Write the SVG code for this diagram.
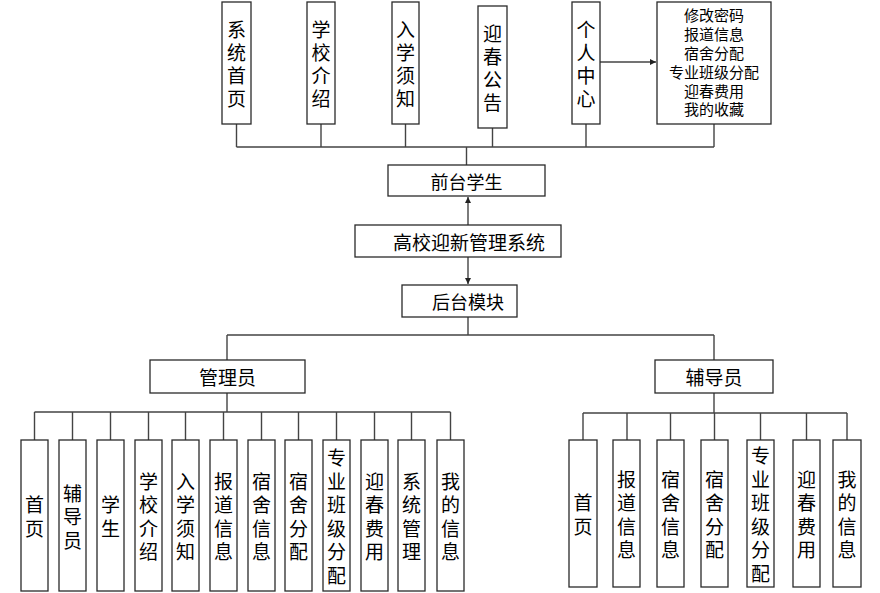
<svg xmlns="http://www.w3.org/2000/svg" width="880" height="593" viewBox="0 0 880 593">
<style>
.b{fill:#fff;stroke:#2a2a2a;stroke-width:1.3}
.t{font-family:"Noto Sans CJK SC","Noto Sans",sans-serif;font-size:19px;fill:#000;text-anchor:middle;dominant-baseline:central}
.s{font-size:15px}
.c{fill:none;stroke:#444;stroke-width:1.4}
</style>
<defs>
<marker id="ah" viewBox="0 0 10 10" refX="10" refY="5" markerWidth="6" markerHeight="6" orient="auto" markerUnits="userSpaceOnUse">
<path d="M0,0 L10,5 L0,10 z" fill="#222"/>
</marker>
</defs>
<rect width="880" height="593" fill="#fff"/>
<g id="connectors">
<path class="c" d="M236.5,124V147M321,124V147M405.5,124V147M492.5,128V147M586,124V147M714,124V147M236.5,147H714M466.5,147V165"/>
<path class="c" d="M600,62H656" marker-end="url(#ah)"/>
<path class="c" d="M468,225V197" marker-end="url(#ah)"/>
<path class="c" d="M468,257V284" marker-end="url(#ah)"/>
<path class="c" d="M468,317V335M227,335H714M227,335V360M714,335V360"/>
<path class="c" d="M227,393V412M34.5,412H450.5M34.5,412V440M72.5,412V440M110.5,412V440M148.5,412V440M185.5,412V440M223.5,412V440M261.5,412V440M298.5,412V440M336.5,412V440M374.5,412V440M411.5,412V440M450.5,412V440"/>
<path class="c" d="M714,393V413M583,413H847M583,413V440M627,413V440M670.5,413V440M714.5,413V440M760.5,413V440M806.5,413V440M847,413V440"/>
</g>
<g id="n_xtsy"><rect class="b" x="222" y="2" width="29" height="122"/><text class="t" x="236.5" y="28.5">系</text><text class="t" x="236.5" y="51.5">统</text><text class="t" x="236.5" y="74.5">首</text><text class="t" x="236.5" y="97.5">页</text></g>
<g id="n_xxjs"><rect class="b" x="307" y="2" width="28" height="122"/><text class="t" x="321" y="28.5">学</text><text class="t" x="321" y="51.5">校</text><text class="t" x="321" y="74.5">介</text><text class="t" x="321" y="97.5">绍</text></g>
<g id="n_rxxz"><rect class="b" x="392" y="2" width="27" height="122"/><text class="t" x="405.5" y="28.5">入</text><text class="t" x="405.5" y="51.5">学</text><text class="t" x="405.5" y="74.5">须</text><text class="t" x="405.5" y="97.5">知</text></g>
<g id="n_ycgg"><rect class="b" x="478" y="6" width="29" height="122"/><text class="t" x="492.5" y="32.5">迎</text><text class="t" x="492.5" y="55.5">春</text><text class="t" x="492.5" y="78.5">公</text><text class="t" x="492.5" y="101.5">告</text></g>
<g id="n_grzx"><rect class="b" x="572" y="2" width="28" height="122"/><text class="t" x="586" y="28.5">个</text><text class="t" x="586" y="51.5">人</text><text class="t" x="586" y="74.5">中</text><text class="t" x="586" y="97.5">心</text></g>
<g id="n_grzx_list"><rect class="b" x="657" y="2" width="114" height="122"/><text class="t s" x="714" y="14.5">修改密码</text><text class="t s" x="714" y="33">报道信息</text><text class="t s" x="714" y="52">宿舍分配</text><text class="t s" x="714" y="71">专业班级分配</text><text class="t s" x="714" y="90">迎春费用</text><text class="t s" x="714" y="108.5">我的收藏</text></g>
<g id="n_qtxs"><rect class="b" x="388" y="165" width="157" height="31"/><text class="t" x="466.5" y="180.5" style="font-size:18px">前台学生</text></g>
<g id="n_root"><rect class="b" x="355" y="225" width="206" height="32"/><text class="t" x="469" y="241">高校迎新管理系统</text></g>
<g id="n_htmk"><rect class="b" x="402" y="285" width="115" height="32"/><text class="t" x="468" y="301" style="font-size:18px">后台模块</text></g>
<g id="n_gly"><rect class="b" x="150" y="360" width="155" height="33"/><text class="t" x="227.5" y="376.5">管理员</text></g>
<g id="n_fdy"><rect class="b" x="655" y="360" width="118" height="33"/><text class="t" x="714" y="376.5">辅导员</text></g>
<g id="a_sy"><rect class="b" x="21" y="440" width="27" height="151"/><text class="t" x="34.5" y="503.75">首</text><text class="t" x="34.5" y="527.25">页</text></g>
<g id="a_fdy"><rect class="b" x="59" y="440" width="27" height="151"/><text class="t" x="72.5" y="492">辅</text><text class="t" x="72.5" y="515.5">导</text><text class="t" x="72.5" y="539">员</text></g>
<g id="a_xs"><rect class="b" x="97" y="440" width="27" height="151"/><text class="t" x="110.5" y="503.75">学</text><text class="t" x="110.5" y="527.25">生</text></g>
<g id="a_xxjs"><rect class="b" x="135" y="440" width="27" height="151"/><text class="t" x="148.5" y="480.25">学</text><text class="t" x="148.5" y="503.75">校</text><text class="t" x="148.5" y="527.25">介</text><text class="t" x="148.5" y="550.75">绍</text></g>
<g id="a_rxxz"><rect class="b" x="172" y="440" width="27" height="151"/><text class="t" x="185.5" y="480.25">入</text><text class="t" x="185.5" y="503.75">学</text><text class="t" x="185.5" y="527.25">须</text><text class="t" x="185.5" y="550.75">知</text></g>
<g id="a_bdxx"><rect class="b" x="210" y="440" width="27" height="151"/><text class="t" x="223.5" y="480.25">报</text><text class="t" x="223.5" y="503.75">道</text><text class="t" x="223.5" y="527.25">信</text><text class="t" x="223.5" y="550.75">息</text></g>
<g id="a_ssxx"><rect class="b" x="248" y="440" width="27" height="151"/><text class="t" x="261.5" y="480.25">宿</text><text class="t" x="261.5" y="503.75">舍</text><text class="t" x="261.5" y="527.25">信</text><text class="t" x="261.5" y="550.75">息</text></g>
<g id="a_ssfp"><rect class="b" x="285" y="440" width="27" height="151"/><text class="t" x="298.5" y="480.25">宿</text><text class="t" x="298.5" y="503.75">舍</text><text class="t" x="298.5" y="527.25">分</text><text class="t" x="298.5" y="550.75">配</text></g>
<g id="a_zybj"><rect class="b" x="323" y="440" width="27" height="151"/><text class="t" x="336.5" y="456.75">专</text><text class="t" x="336.5" y="480.25">业</text><text class="t" x="336.5" y="503.75">班</text><text class="t" x="336.5" y="527.25">级</text><text class="t" x="336.5" y="550.75">分</text><text class="t" x="336.5" y="574.25">配</text></g>
<g id="a_ycfy"><rect class="b" x="361" y="440" width="27" height="151"/><text class="t" x="374.5" y="480.25">迎</text><text class="t" x="374.5" y="503.75">春</text><text class="t" x="374.5" y="527.25">费</text><text class="t" x="374.5" y="550.75">用</text></g>
<g id="a_xtgl"><rect class="b" x="398" y="440" width="27" height="151"/><text class="t" x="411.5" y="480.25">系</text><text class="t" x="411.5" y="503.75">统</text><text class="t" x="411.5" y="527.25">管</text><text class="t" x="411.5" y="550.75">理</text></g>
<g id="a_wdxx"><rect class="b" x="437" y="440" width="27" height="151"/><text class="t" x="450.5" y="480.25">我</text><text class="t" x="450.5" y="503.75">的</text><text class="t" x="450.5" y="527.25">信</text><text class="t" x="450.5" y="550.75">息</text></g>
<g id="f_sy"><rect class="b" x="569" y="440" width="28" height="147"/><text class="t" x="583" y="501.75">首</text><text class="t" x="583" y="525.25">页</text></g>
<g id="f_bdxx"><rect class="b" x="613" y="440" width="27" height="147"/><text class="t" x="626.5" y="478.25">报</text><text class="t" x="626.5" y="501.75">道</text><text class="t" x="626.5" y="525.25">信</text><text class="t" x="626.5" y="548.75">息</text></g>
<g id="f_ssxx"><rect class="b" x="657" y="440" width="27" height="147"/><text class="t" x="670.5" y="478.25">宿</text><text class="t" x="670.5" y="501.75">舍</text><text class="t" x="670.5" y="525.25">信</text><text class="t" x="670.5" y="548.75">息</text></g>
<g id="f_ssfp"><rect class="b" x="701" y="440" width="27" height="147"/><text class="t" x="714.5" y="478.25">宿</text><text class="t" x="714.5" y="501.75">舍</text><text class="t" x="714.5" y="525.25">分</text><text class="t" x="714.5" y="548.75">配</text></g>
<g id="f_zybj"><rect class="b" x="747" y="440" width="27" height="147"/><text class="t" x="760.5" y="454.75">专</text><text class="t" x="760.5" y="478.25">业</text><text class="t" x="760.5" y="501.75">班</text><text class="t" x="760.5" y="525.25">级</text><text class="t" x="760.5" y="548.75">分</text><text class="t" x="760.5" y="572.25">配</text></g>
<g id="f_ycfy"><rect class="b" x="793" y="440" width="27" height="147"/><text class="t" x="806.5" y="478.25">迎</text><text class="t" x="806.5" y="501.75">春</text><text class="t" x="806.5" y="525.25">费</text><text class="t" x="806.5" y="548.75">用</text></g>
<g id="f_wdxx"><rect class="b" x="833" y="440" width="28" height="147"/><text class="t" x="847" y="478.25">我</text><text class="t" x="847" y="501.75">的</text><text class="t" x="847" y="525.25">信</text><text class="t" x="847" y="548.75">息</text></g>
</svg>
